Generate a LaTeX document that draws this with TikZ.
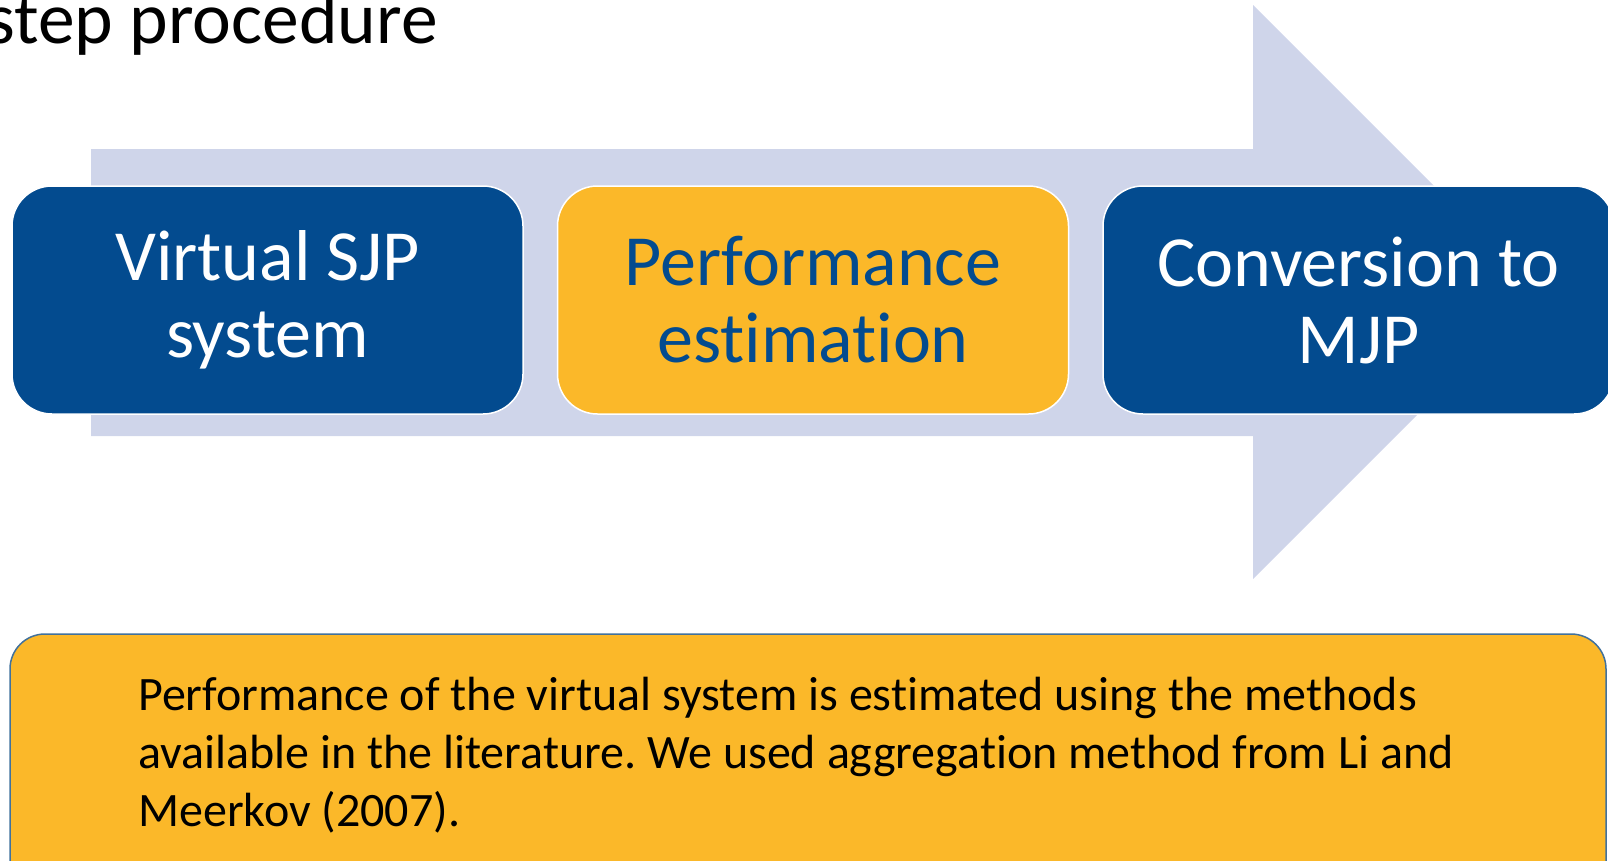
\documentclass[tikz,border=0pt]{standalone}
\usepackage{fontspec}
\setmainfont{Carlito}[Ligatures=NoCommon]
\usetikzlibrary{positioning}
\frenchspacing

\definecolor{sjpblue}{HTML}{034B8F}
\definecolor{sjporange}{HTML}{FBB829}
\definecolor{arrowfill}{HTML}{CFD5EA}
\definecolor{noteline}{HTML}{41719C}

\tikzset{
  stage/.style={rounded corners=40pt, draw=white, line width=1.5pt,
    minimum width=511pt, minimum height=228pt, inner sep=0pt,
    align=center, font=\fontsize{72}{77}\selectfont},
  bluestage/.style={stage, fill=sjpblue, text=white},
  orangestage/.style={stage, fill=sjporange, text=sjpblue},
  notebox/.style={rounded corners=35pt, draw=noteline, line width=1.5pt,
    fill=sjporange, minimum width=1596pt, minimum height=270pt, inner sep=0pt},
  notetext/.style={align=left, inner sep=0pt, font=\fontsize{48}{58}\selectfont}
}

\begin{document}
\begin{tikzpicture}[x=1pt,y=-1pt]
\useasboundingbox (0,0) rectangle (1608,860);
\node[anchor=base west, inner sep=0pt, font=\fontsize{73.5}{78}\selectfont] (title) at (-14,43) {step procedure};
\fill[arrowfill] (91,149) -- (1253,149) -- (1253,5) -- (1540,292) -- (1253,579) -- (1253,436) -- (91,436) -- cycle;
\node[bluestage] (virtual) at (267.5,300) {Virtual SJP\\system};
\node[orangestage, right=33pt of virtual] (perf) {Performance\\estimation};
\node[bluestage, right=33pt of perf] (conv) {Conversion to\\MJP};
\node[notebox] (note) at (808,769) {};
\node[notetext, anchor=north west] (notetext) at (138,677) {Performance of the virtual system is estimated using the methods\\available in the literature. We used aggregation method from Li and\\Meerkov (2007).};
\end{tikzpicture}
\end{document}
